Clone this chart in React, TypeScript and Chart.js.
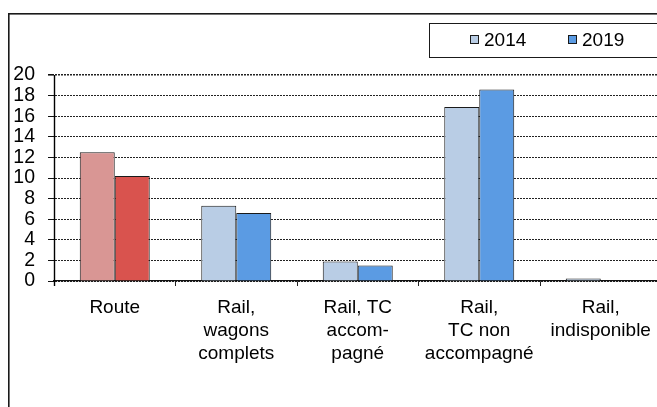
import React, { useEffect, useRef } from "react";
import { Chart, registerables } from "chart.js";

Chart.register(...registerables);

// ---- data ----
const categories: string[][] = [
  ["Route"],
  ["Rail,", "wagons", "complets"],
  ["Rail, TC", "accom-", "pagné"],
  ["Rail,", "TC non", "accompagné"],
  ["Rail,", "indisponible"],
];
const seriesLabels = ["2014", "2019"];
const values2014 = [12.5, 7.3, 1.9, 16.9, 0.25];
const values2019 = [10.2, 6.6, 1.5, 18.6, 0];
const yMin = 0;
const yMax = 20;
const yStep = 2;
const colors2014 = ["#D99694", "#B9CDE5", "#B9CDE5", "#B9CDE5", "#B9CDE5"];
const colors2019 = ["#D9534E", "#5B9BE3", "#5B9BE3", "#5B9BE3", "#5B9BE3"];
const legendColors = ["#B9CDE5", "#5B9BE3"];

const FONT = "'Liberation Sans', Arial, sans-serif";

const framePlugin = {
  id: "frame",
  beforeDraw(chart: any) {
    const ctx = chart.ctx;
    ctx.save();
    ctx.fillStyle = "#ffffff";
    ctx.fillRect(0, 0, chart.width, chart.height);
    ctx.strokeStyle = "#1a1a1a";
    ctx.lineWidth = 1.6;
    ctx.strokeRect(8.8, 13.8, 680, 410);
    ctx.restore();
  },
};

// solid value-axis line (the y border)
const axisLinePlugin = {
  id: "axisLine",
  afterDraw(chart: any) {
    const ca = chart.chartArea;
    const ctx = chart.ctx;
    const x = Math.round(ca.left) + 0.5;
    ctx.save();
    ctx.setLineDash([]);
    ctx.strokeStyle = "#000";
    ctx.lineWidth = 1.4;
    ctx.beginPath();
    ctx.moveTo(x, ca.top);
    ctx.lineTo(x, ca.bottom + 5);
    ctx.stroke();
    ctx.restore();
  },
};

const legendPlugin = {
  id: "boxLegend",
  afterDraw(chart: any) {
    const ctx = chart.ctx;
    ctx.save();
    ctx.strokeStyle = "#1a1a1a";
    ctx.lineWidth = 1;
    ctx.strokeRect(429.5, 23.5, 260, 34);
    ctx.font = `19px ${FONT}`;
    ctx.textBaseline = "middle";
    ctx.textAlign = "left";
    const xs = [470.5, 568.5];
    seriesLabels.forEach((lab, i) => {
      ctx.fillStyle = legendColors[i];
      ctx.fillRect(xs[i], 35.5, 8, 8);
      ctx.strokeStyle = "#1a1a1a";
      ctx.strokeRect(xs[i], 35.5, 8, 8);
      ctx.fillStyle = "#000";
      ctx.fillText(lab, xs[i] + 13.5, 41);
    });
    ctx.restore();
  },
};

export default function App() {
  const ref = useRef<HTMLCanvasElement | null>(null);

  useEffect(() => {
    if (!ref.current) return;
    const chart = new Chart(ref.current, {
      type: "bar",
      data: {
        labels: categories,
        datasets: [
          {
            label: seriesLabels[0],
            data: values2014,
            backgroundColor: colors2014,
            borderColor: "#1a1a1a",
            borderWidth: 1,
            categoryPercentage: 0.576,
            barPercentage: 1.0,
          },
          {
            label: seriesLabels[1],
            data: values2019,
            backgroundColor: colors2019,
            borderColor: "#1a1a1a",
            borderWidth: 1,
            categoryPercentage: 0.576,
            barPercentage: 1.0,
          },
        ],
      },
      options: {
        responsive: false,
        animation: false,
        devicePixelRatio: 1,
        layout: { padding: { left: 0, top: 75, right: 38.5, bottom: 29 } },
        plugins: {
          legend: { display: false },
          tooltip: { enabled: false },
        },
        scales: {
          x: {
            afterFit: (s: any) => {
              s.height = 120;
            },
            grid: {
              display: true,
              drawOnChartArea: false,
              drawTicks: true,
              tickLength: 5,
              tickColor: "#222",
              offset: true,
            },
            border: { display: true, color: "#111", width: 1.3 },
            ticks: {
              color: "#000",
              font: { family: FONT, size: 19, lineHeight: 1.22 },
              padding: 10,
              maxRotation: 0,
              autoSkip: false,
            },
          },
          y: {
            min: yMin,
            max: yMax,
            afterFit: (s: any) => {
              s.width = 54;
            },
            grid: {
              color: "#222",
              lineWidth: (c: any) => (c.tick && c.tick.value === yMax ? 1.6 : 1),
              drawTicks: true,
              tickLength: 6,
              tickColor: "#111",
              tickBorderDash: [],
            },
            border: {
              display: true,
              color: "#111",
              width: 1,
              dash: (c: any) => (c.type === "tick" ? [2, 1] : []),
            },
            ticks: {
              stepSize: yStep,
              autoSkip: false,
              color: "#000",
              font: { family: FONT, size: 19.5 },
              padding: 13,
            },
          },
        },
      },
      plugins: [framePlugin, axisLinePlugin, legendPlugin],
    });
    return () => chart.destroy();
  }, []);

  return (
    <div
      style={{
        position: "fixed",
        left: 0,
        top: 0,
        width: 657,
        height: 407,
        overflow: "hidden",
        background: "#fff",
      }}
    >
      <canvas ref={ref} width={700} height={430} style={{ display: "block" }} />
    </div>
  );
}
